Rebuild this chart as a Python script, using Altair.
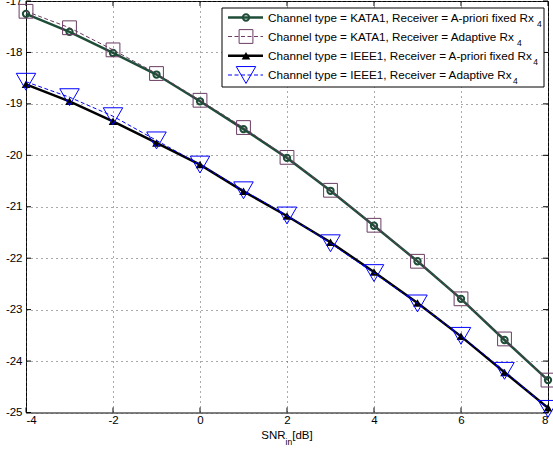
import altair as alt
import pandas as pd

# ---------------- data ----------------
snr = [-4, -3, -2, -1, 0, 1, 2, 3, 4, 5, 6, 7, 8]
kata1_fixed = [-17.25, -17.60, -18.01, -18.43, -18.95, -19.49, -20.05, -20.69, -21.37, -22.06, -22.79, -23.59, -24.37]
kata1_adaptive = [-17.20, -17.52, -17.95, -18.41, -18.93, -19.46, -20.04, -20.68, -21.36, -22.06, -22.79, -23.57, -24.37]
ieee1_fixed = [-18.62, -18.95, -19.34, -19.76, -20.18, -20.70, -21.18, -21.69, -22.27, -22.87, -23.52, -24.22, -24.91]
ieee1_adaptive = [-18.57, -18.87, -19.24, -19.71, -20.18, -20.68, -21.17, -21.71, -22.29, -22.88, -23.51, -24.19, -24.93]
x_ticks = [-4, -2, 0, 2, 4, 6, 8]
y_ticks = [-25, -24, -23, -22, -21, -20, -19, -18, -17]
legend_main = [
    "Channel type = KATA1, Receiver = A-priori fixed Rx",
    "Channel type = KATA1, Receiver = Adaptive Rx",
    "Channel type = IEEE1, Receiver = A-priori fixed Rx",
    "Channel type = IEEE1, Receiver = Adaptive Rx",
]
legend_sub = ["4", "4", "4", "4"]

# ---------------- layout / styles ----------------
W, H = 522, 411.5
FONT = "Liberation Sans"
GREEN, PURPLE, BLUE, BLACK = "#1f4d38", "#6a3d63", "#0000ff", "#000000"

styles = [
    dict(color=GREEN, lw=2.5, dash=None, shape="circle", size=40, sw=2, filled=False),
    dict(color=PURPLE, lw=1, dash=[4, 2.5], shape="square", size=190, sw=1, filled=False),
    dict(color=BLACK, lw=2.5, dash=None, shape="triangle-up", size=75, sw=1, filled=True),
    dict(color=BLUE, lw=1, dash=[4, 2.5], shape="triangle-down", size=380, sw=1, filled=False),
]
series_vals = [kata1_fixed, kata1_adaptive, ieee1_fixed, ieee1_adaptive]

ARIAL = {'C': 722, 'h': 556, 'a': 556, 'n': 556, 'e': 556, 'l': 222, ' ': 278, 't': 278,
         'y': 500, 'p': 556, '=': 584, 'K': 667, 'A': 667, 'T': 611, '1': 556, ',': 278,
         'R': 722, 'c': 500, 'i': 222, 'v': 500, 'r': 333, '-': 333, 'o': 556, 'f': 278,
         'x': 500, 'd': 556, 'I': 278, 'E': 667, 'S': 667, 'N': 722, '[': 278, ']': 278,
         'B': 667, '4': 556}


def text_w(s, size):
    return sum(ARIAL.get(c, 556) for c in s) * size / 1000.0


xs = alt.Scale(domain=[-4, 8], nice=False, zero=False)
ys = alt.Scale(domain=[-25, -17], nice=False, zero=False)
axX = alt.Axis(values=x_ticks, title=None, grid=True, gridDash=[1, 4], gridColor="#555555",
               gridWidth=1, ticks=False, domain=False, labelPadding=2,
               labelExpr="'' + datum.value")
axY = alt.Axis(values=y_ticks, title=None, grid=True, gridDash=[1, 4], gridColor="#555555",
               gridWidth=1, ticks=False, domain=False, labelPadding=4,
               labelExpr="'' + datum.value")

X = alt.X("x:Q", scale=xs, axis=axX)
Y = alt.Y("y:Q", scale=ys, axis=axY)

layers = []

# inward tick marks on all four sides
xt = pd.DataFrame({"x": x_ticks})
yt = pd.DataFrame({"y": y_ticks})
layers.append(alt.Chart(xt).mark_rule(color="black", strokeWidth=1).encode(
    x=X, y=alt.value(H - 5), y2=alt.value(H)))
layers.append(alt.Chart(xt).mark_rule(color="black", strokeWidth=1).encode(
    x=X, y=alt.value(0), y2=alt.value(5)))
layers.append(alt.Chart(yt).mark_rule(color="black", strokeWidth=1).encode(
    y=Y, x=alt.value(0), x2=alt.value(5)))
layers.append(alt.Chart(yt).mark_rule(color="black", strokeWidth=1).encode(
    y=Y, x=alt.value(W - 5), x2=alt.value(W)))

# data series
for vals, st in zip(series_vals, styles):
    df = pd.DataFrame({"x": snr, "y": vals})
    lk = dict(color=st["color"], strokeWidth=st["lw"])
    if st["dash"]:
        lk["strokeDash"] = st["dash"]
    layers.append(alt.Chart(df).mark_line(**lk).encode(x=X, y=Y))
    pk = dict(shape=st["shape"], size=st["size"], strokeWidth=st["sw"], opacity=1,
              filled=st["filled"], color=st["color"])
    layers.append(alt.Chart(df).mark_point(**pk).encode(x=X, y=Y))

one = pd.DataFrame({"t": [""]})

# legend box
layers.append(alt.Chart(one).mark_rect(fill="white", stroke="black", strokeWidth=1).encode(
    x=alt.value(196), x2=alt.value(518), y=alt.value(7), y2=alt.value(86)))

row_y = [16.5, 35.5, 54.8, 74.0]
LFS = 11.7
for i, st in enumerate(styles):
    ly = row_y[i]
    lk = dict(color=st["color"], strokeWidth=st["lw"])
    if st["dash"]:
        lk["strokeDash"] = st["dash"]
    layers.append(alt.Chart(one).mark_rule(**lk).encode(
        x=alt.value(202), x2=alt.value(237), y=alt.value(ly)))
    pk = dict(shape=st["shape"], size=st["size"], strokeWidth=st["sw"], opacity=1,
              filled=st["filled"], color=st["color"])
    layers.append(alt.Chart(one).mark_point(**pk).encode(x=alt.value(220), y=alt.value(ly)))
    tdf = pd.DataFrame({"t": [legend_main[i]]})
    layers.append(alt.Chart(tdf).mark_text(align="left", baseline="alphabetic", font=FONT,
                                           fontSize=LFS, color="black").encode(
        x=alt.value(242), y=alt.value(ly + 4), text="t:N"))
    sdf = pd.DataFrame({"t": [legend_sub[i]]})
    layers.append(alt.Chart(sdf).mark_text(align="left", baseline="alphabetic", font=FONT,
                                           fontSize=8.5, color="black").encode(
        x=alt.value(242 + text_w(legend_main[i], LFS) + 0.5), y=alt.value(ly + 9), text="t:N"))

# x axis title SNR_in[dB]
parts = [("SNR", 11.5, 0), ("in", 8.5, 6), ("[dB]", 11.5, 0)]
total = sum(text_w(p, s) for p, s, _ in parts)
cx = W / 2 - total / 2
for p, s, dy in parts:
    pdf = pd.DataFrame({"t": [p]})
    layers.append(alt.Chart(pdf).mark_text(align="left", baseline="alphabetic", font=FONT,
                                           fontSize=s, color="black").encode(
        x=alt.value(cx), y=alt.value(H + 26 + dy), text="t:N"))
    cx += text_w(p, s)

chart = alt.layer(*layers).properties(
    width=W, height=H,
    autosize=alt.AutoSizeParams(type="none"),
    padding={"left": 26, "top": 1, "right": 5, "bottom": 39.5},
    background="white",
).configure_view(stroke="black", strokeWidth=1).configure_axis(
    labelFont=FONT, labelFontSize=11.5, labelColor="black"
)

chart.save("out.html", embed_options={"renderer": "svg", "actions": False})
